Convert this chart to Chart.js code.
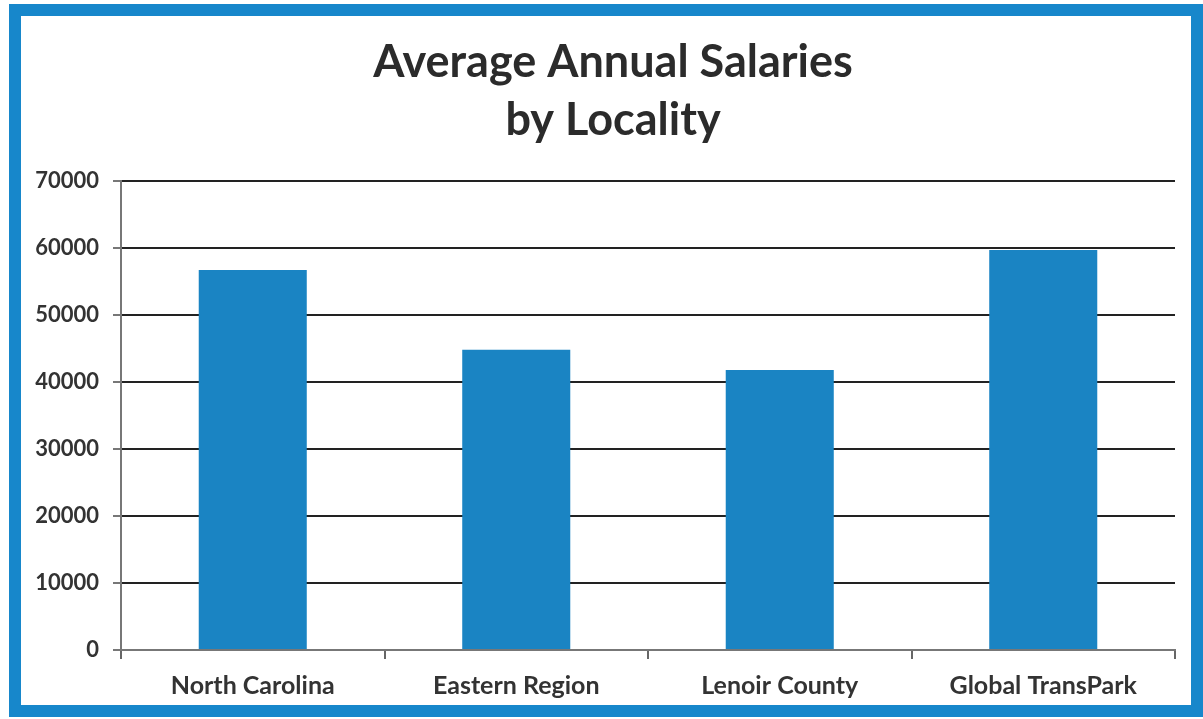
<!DOCTYPE html>
<html>
<head>
<meta charset="utf-8">
<script src="https://cdn.jsdelivr.net/npm/chart.js@4"></script>
<style>
  html, body { margin: 0; padding: 0; background: #fff; }
  #wrap { position: relative; width: 1203px; height: 719px; }
  #frame {
    position: absolute; left: 9px; top: 4px; width: 1170px; height: 689px;
    border: 12px solid #1787cb; pointer-events: none;
  }
</style>
</head>
<body>
<div id="wrap">
  <canvas id="c" width="1203" height="719"></canvas>
  <div id="frame"></div>
</div>
<script>
const categories = ['North Carolina', 'Eastern Region', 'Lenoir County', 'Global TransPark'];
const salaries = [56700, 44800, 41800, 59700];
const titleLines = ['Average Annual Salaries', 'by Locality'];

const FONT = 'Lato, "Open Sans", sans-serif';

// the original title sits a bit right of the plot centre
const shiftTitle = {
    id: 'shiftTitle',
    afterLayout(chart) {
        if (chart.titleBlock) chart.titleBlock.left = 51;
    }
};

new Chart(document.getElementById('c'), {
    type: 'bar',
    data: {
        labels: categories,
        datasets: [{
            data: salaries,
            backgroundColor: '#1a84c3',
            borderWidth: 0,
            categoryPercentage: 1,
            barPercentage: 0.41
        }]
    },
    plugins: [shiftTitle],
    options: {
        responsive: false,
        animation: false,
        layout: { padding: { left: 0, right: 28, top: 13, bottom: 0 } },
        plugins: {
            legend: { display: false },
            tooltip: { enabled: false },
            title: {
                display: true,
                text: titleLines,
                color: '#2b2b2b',
                font: { family: FONT, size: 45, weight: 'bold', lineHeight: 1.3 },
                padding: { top: 20, bottom: 31 }
            }
        },
        scales: {
            x: {
                afterFit: s => { s.height = 69; },
                grid: {
                    offset: true,
                    drawOnChartArea: false,
                    color: '#666',
                    lineWidth: 2,
                    tickLength: 9
                },
                border: { color: '#777', width: 2 },
                ticks: {
                    color: '#333',
                    padding: 12,
                    font: { family: FONT, size: 25, weight: 'bold' }
                }
            },
            y: {
                min: 0,
                max: 70000,
                afterFit: s => { s.width = 121; },
                ticks: {
                    stepSize: 10000,
                    color: '#333',
                    padding: 14,
                    callback: v => String(v),
                    font: { family: FONT, size: 22, weight: 'bold' }
                },
                grid: {
                    color: '#222',
                    lineWidth: 2,
                    tickLength: 8,
                    tickColor: '#777'
                },
                border: { color: '#777', width: 2 }
            }
        }
    }
});
</script>
</body>
</html>
